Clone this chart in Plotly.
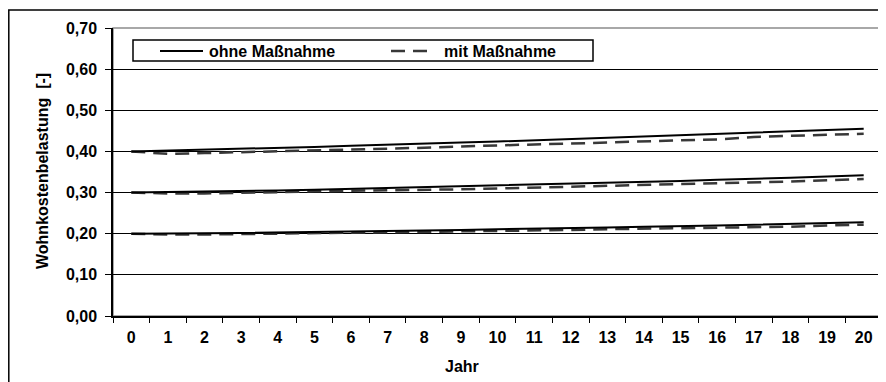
import plotly.graph_objects as go

# Jahr 0..20
jahre = [str(i) for i in range(21)]

# Wohnkostenbelastung, drei Ausgangsniveaus (0,40 / 0,30 / 0,20)
ohne_40 = [0.400, 0.402, 0.404, 0.406, 0.408, 0.411, 0.414, 0.417, 0.420, 0.422, 0.424,
           0.427, 0.431, 0.434, 0.437, 0.439, 0.442, 0.446, 0.449, 0.451, 0.455]
mit_40 = [0.400, 0.394, 0.396, 0.398, 0.400, 0.402, 0.404, 0.406, 0.409, 0.412, 0.415,
          0.417, 0.419, 0.422, 0.425, 0.427, 0.429, 0.435, 0.438, 0.440, 0.443]
ohne_30 = [0.300, 0.301, 0.302, 0.304, 0.305, 0.307, 0.309, 0.311, 0.313, 0.315, 0.317,
           0.319, 0.321, 0.323, 0.326, 0.328, 0.331, 0.333, 0.336, 0.339, 0.342]
mit_30 = [0.300, 0.298, 0.298, 0.299, 0.301, 0.303, 0.304, 0.305, 0.307, 0.308, 0.310,
          0.312, 0.314, 0.316, 0.318, 0.320, 0.322, 0.324, 0.327, 0.330, 0.333]
ohne_20 = [0.200, 0.200, 0.201, 0.202, 0.203, 0.204, 0.205, 0.207, 0.208, 0.209, 0.211,
           0.212, 0.214, 0.215, 0.217, 0.218, 0.220, 0.222, 0.224, 0.226, 0.228]
mit_20 = [0.200, 0.198, 0.198, 0.199, 0.200, 0.201, 0.202, 0.203, 0.204, 0.205, 0.207,
          0.208, 0.209, 0.211, 0.212, 0.213, 0.214, 0.216, 0.217, 0.220, 0.222]

font = "Liberation Sans, Arial, sans-serif"
solid = dict(color="black", width=2)
dashed = dict(color="#383838", width=2.5, dash="14px,8px")

# plot area in screen pixels: x 113..882, y 28..316
# (the page body has an 8px margin, so the figure starts at 8,8)
L, R, T, B = 113, 882, 28, 316
OFF = 8


def px(x):
    return (x - L) / (R - L)


def py(y):
    return (B - y) / (B - T)


fig = go.Figure()
for ohne, mit in [(ohne_40, mit_40), (ohne_30, mit_30), (ohne_20, mit_20)]:
    fig.add_trace(go.Scatter(x=jahre, y=mit, mode="lines", line=dashed,
                             name="mit Maßnahme", showlegend=False))
    fig.add_trace(go.Scatter(x=jahre, y=ohne, mode="lines", line=solid,
                             name="ohne Maßnahme", showlegend=False))

# plot frame (grey top/right) and outer chart border
fig.add_shape(type="rect", xref="paper", yref="paper", x0=0, x1=1, y0=0, y1=1,
              line=dict(color="#8c8c8c", width=1.5), layer="below")
fig.add_shape(type="rect", xref="paper", yref="paper", x0=px(8.8), x1=px(892),
              y0=py(400), y1=py(10), line=dict(color="black", width=1.5))

# legend box drawn by hand
fig.add_shape(type="rect", xref="paper", yref="paper", x0=px(133), x1=px(593),
              y0=py(61), y1=py(40), line=dict(color="black", width=1.5),
              fillcolor="white", layer="above")
fig.add_shape(type="line", xref="paper", yref="paper", x0=px(160), x1=px(203),
              y0=py(51), y1=py(51), line=solid)
fig.add_shape(type="line", xref="paper", yref="paper", x0=px(391), x1=px(428),
              y0=py(51), y1=py(51), line=dashed)
for name, xpos in [("ohne Maßnahme", 207), ("mit Maßnahme", 442)]:
    fig.add_annotation(text=name, xref="paper", yref="paper", x=px(xpos), y=py(51),
                       xanchor="left", yanchor="middle", showarrow=False,
                       font=dict(size=16, weight="bold"))

# axis titles
fig.add_annotation(text="Jahr", xref="paper", yref="paper", x=px(461.5), y=py(366),
                   xanchor="center", yanchor="middle", showarrow=False,
                   font=dict(size=16, weight="bold"))
fig.add_annotation(text="Wohnkostenbelastung  [-]", xref="paper", yref="paper",
                   x=px(42), y=py(171), textangle=-90,
                   xanchor="center", yanchor="middle", showarrow=False,
                   font=dict(size=16, weight="bold"))

fig.update_layout(
    width=886 - OFF, height=382 - OFF,
    margin=dict(l=L - OFF, r=886 - R, t=T - OFF, b=382 - B),
    paper_bgcolor="white", plot_bgcolor="white",
    separators=",.",
    font=dict(family=font, size=16, color="black"),
    showlegend=False,
)
fig.update_xaxes(
    type="category", range=[-0.5, 20.5], automargin=False,
    showline=True, linecolor="black", linewidth=1.5,
    ticks="outside", ticklen=5, tickcolor="black", tickson="boundaries",
    showgrid=False,
    tickfont=dict(size=16, weight="bold"), ticklabelstandoff=6,
)
fig.update_yaxes(
    range=[0, 0.7], dtick=0.1, tickformat=".2f", automargin=False,
    showline=True, linecolor="black", linewidth=1.5,
    ticks="outside", ticklen=6, tickcolor="black",
    showgrid=True, gridcolor="black", gridwidth=1.2,
    zeroline=False,
    tickfont=dict(size=16, weight="bold"), ticklabelstandoff=5,
)

fig.write_html("out.html")
